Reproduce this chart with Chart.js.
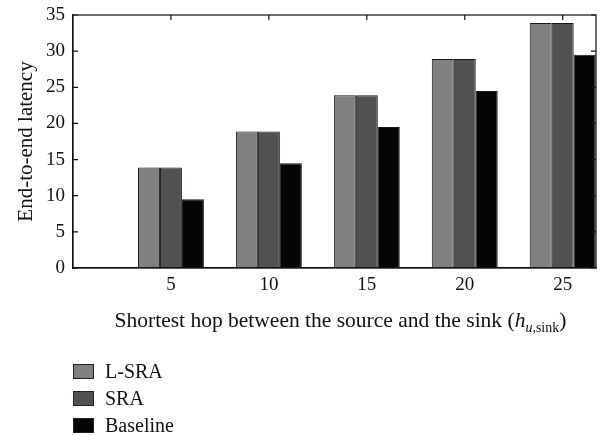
<!DOCTYPE html>
<html>
<head>
<meta charset="utf-8">
<script src="https://cdn.jsdelivr.net/npm/chart.js@4/dist/chart.umd.min.js"></script>
<style>
  body { margin: 0; background: #fff; }
  #wrap { position: relative; width: 607px; height: 436px; }
  #legend { position: absolute; left: 73px; top: 358px; font: 20px "Liberation Serif", serif; color: #111; }
  .item { display: flex; align-items: center; height: 27px; }
  .box { width: 19px; height: 13px; border: 1px solid #222; margin-right: 11px; }
</style>
</head>
<body>
<div id="wrap">
  <canvas id="chart"></canvas>
  <div id="legend"></div>
</div>
<script>
const hops = [5, 10, 15, 20, 25];
const lsra = [13.9, 18.9, 23.9, 28.9, 33.9];
const sra = [13.9, 18.9, 23.9, 28.9, 33.9];
const baseline = [9.5, 14.5, 19.5, 24.5, 29.5];
const seriesNames = ["L-SRA", "SRA", "Baseline"];
const seriesColors = ["#808080", "#505250", "#050505"];
const yTicks = [0, 5, 10, 15, 20, 25, 30, 35];

const serif = "'Liberation Serif', serif";

function points(vals) {
  return hops.map((h, i) => ({ x: h, y: vals[i] }));
}

// box around the plot and MATLAB style inward tick marks
const frame = {
  id: "frame",
  afterDraw(chart) {
    const ctx = chart.ctx;
    const a = chart.chartArea;
    const xs = chart.scales.x, ys = chart.scales.y;
    ctx.save();
    ctx.strokeStyle = "#111";
    ctx.lineWidth = 1.2;
    ctx.strokeRect(a.left, a.top, a.right - a.left, a.bottom - a.top);
    ctx.beginPath();
    yTicks.forEach(v => {
      const y = ys.getPixelForValue(v);
      ctx.moveTo(a.left, y); ctx.lineTo(a.left + 5, y);
      ctx.moveTo(a.right, y); ctx.lineTo(a.right - 5, y);
    });
    hops.forEach(v => {
      const x = xs.getPixelForValue(v);
      ctx.moveTo(x, a.top); ctx.lineTo(x, a.top + 5);
    });
    ctx.stroke();

    // x axis title with italic h and subscript
    const parts = [
      { t: "Shortest hop between the source and the sink (", f: "21.5px " + serif, dy: 0 },
      { t: "h", f: "italic 21.5px " + serif, dy: 0 },
      { t: "u", f: "italic 14px " + serif, dy: 5 },
      { t: ",sink", f: "14px " + serif, dy: 5 },
      { t: ")", f: "21.5px " + serif, dy: 0 }
    ];
    let w = 0;
    parts.forEach(p => { ctx.font = p.f; p.w = ctx.measureText(p.t).width; w += p.w; });
    let x = 340.5 - w / 2;
    ctx.fillStyle = "#111";
    ctx.textBaseline = "alphabetic";
    parts.forEach(p => {
      ctx.font = p.f;
      ctx.fillText(p.t, x, 327 + p.dy);
      x += p.w;
    });
    ctx.restore();
  }
};

const chart = new Chart(document.getElementById("chart"), {
  type: "bar",
  data: {
    datasets: [lsra, sra, baseline].map((vals, i) => ({
      label: seriesNames[i],
      data: points(vals),
      backgroundColor: seriesColors[i],
      borderColor: "#1a1a1a",
      borderWidth: 1,
      barPercentage: 1,
      categoryPercentage: 0.673
    }))
  },
  options: {
    responsive: true,
    maintainAspectRatio: false,
    animation: false,
    layout: { padding: { top: 15, right: 11, left: 0, bottom: 136 } },
    plugins: { legend: { display: false }, tooltip: { enabled: false } },
    scales: {
      x: {
        type: "linear",
        offset: false,
        min: 0,
        max: 26.7,
        afterBuildTicks: s => { s.ticks = [0, ...hops].map(v => ({ value: v })); },
        ticks: {
          padding: 6,
          color: "#111",
          font: { family: serif, size: 19 },
          callback: v => (v === 0 ? "" : v)
        },
        grid: { drawOnChartArea: false, drawTicks: false },
        border: { color: "#111", width: 1.2 },
        afterFit: s => { s.height = 32; s.paddingLeft = 0; s.paddingRight = 0; }
      },
      y: {
        min: 0,
        max: 35,
        ticks: {
          stepSize: 5,
          padding: 8,
          color: "#111",
          font: { family: serif, size: 19 }
        },
        title: {
          display: true,
          text: "End-to-end latency",
          color: "#111",
          font: { family: serif, size: 21 },
          padding: { top: 14, bottom: 0 }
        },
        grid: { drawOnChartArea: false, drawTicks: false },
        border: { color: "#111", width: 1.2 },
        afterFit: s => { s.width = 73; s.paddingTop = 0; s.paddingBottom = 0; }
      }
    }
  },
  plugins: [frame]
});

const legendDiv = document.getElementById("legend");
chart.data.datasets.forEach(ds => {
  const div = document.createElement("div");
  div.className = "item";
  div.innerHTML = `<span class="box" style="background:${ds.backgroundColor}"></span><span>${ds.label}</span>`;
  legendDiv.appendChild(div);
});
</script>
</body>
</html>
